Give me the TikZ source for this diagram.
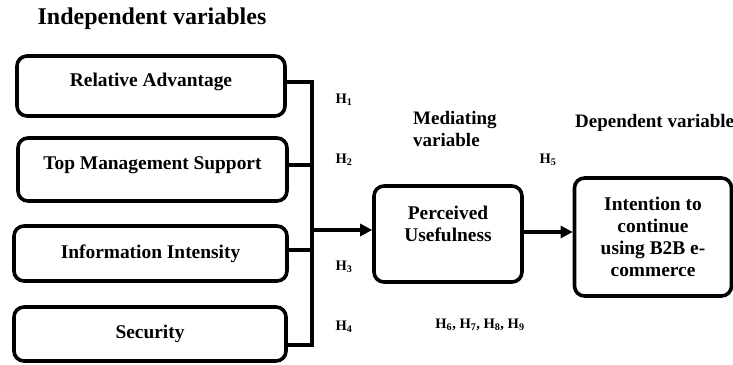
\documentclass[tikz,border=0pt]{standalone}
\usepackage{fontspec}
\setmainfont{Liberation Serif}
\usetikzlibrary{arrows.meta,calc}
\begin{document}
\begin{tikzpicture}[x=1pt,y=-1pt,
  varbox/.style={draw=black,line width=3.6pt,rounded corners=10pt,fill=white,
    font=\fontsize{19.4}{22}\selectfont\bfseries,align=center,inner sep=0pt},
  conn/.style={line width=3.6pt},
  arr/.style={conn,-{Triangle[length=12pt,width=12pt]}},
  hlab/.style={font=\fontsize{14.5}{16}\selectfont\bfseries,inner sep=0pt},
  head/.style={font=\fontsize{19}{22}\selectfont\bfseries,inner sep=0pt,align=left}]
\useasboundingbox (0,0) rectangle (733,364);
% heading
\node[font=\fontsize{24}{27}\selectfont\bfseries,inner sep=0pt] (title) at (152,19) {Independent variables};
% independent variable boxes
\node[varbox,minimum width=268pt,minimum height=60pt,text depth=12pt] (b1) at (151,86) {Relative Advantage};
\node[varbox,minimum width=269pt,minimum height=63pt,text depth=12pt] (b2) at (152.5,169.5) {Top Management Support};
\node[varbox,minimum width=273pt,minimum height=55pt] (b3) at (150.5,253.5) {Information Intensity};
\node[varbox,minimum width=272pt,minimum height=54pt] (b4) at (150,334) {Security};
% mediating and dependent boxes
\node[varbox,minimum width=148pt,minimum height=96pt,text depth=20pt] (pu) at (448,234) {Perceived\\Usefulness};
\node[varbox,minimum width=157pt,minimum height=118pt] (ic) at (653,237) {Intention to\\continue\\using B2B e-\\commerce};
% headings of groups
\node[head,anchor=west] (med) at (413,129) {Mediating\\variable};
\node[head,anchor=west] (dep) at (575,123) {Dependent variable};
% bus
\coordinate (bt) at (312,82);
\coordinate (bb) at (312,345);
\draw[conn] (b1.east |- bt) -- (bt) -- (bb) -- (b4.east |- bb);
\draw[conn] (b2.east |- 0,165) -- (bt |- 0,165);
\draw[conn] (b3.east |- 0,250) -- (bt |- 0,250);
\draw[arr] (bt |- 0,230) -- (pu.west |- 0,230);
\draw[arr] (pu.east |- 0,232) -- (ic.west |- 0,232);
% hypothesis labels
\node[hlab] (h1) at (344,100) {H\textsubscript{1}};
\node[hlab] (h2) at (344,160) {H\textsubscript{2}};
\node[hlab] (h3) at (344,267) {H\textsubscript{3}};
\node[hlab] (h4) at (344,327) {H\textsubscript{4}};
\node[hlab] (h5) at (548,160) {H\textsubscript{5}};
\node[hlab] (h69) at (480,325) {H\textsubscript{6}, H\textsubscript{7}, H\textsubscript{8}, H\textsubscript{9}};
\end{tikzpicture}
\end{document}
